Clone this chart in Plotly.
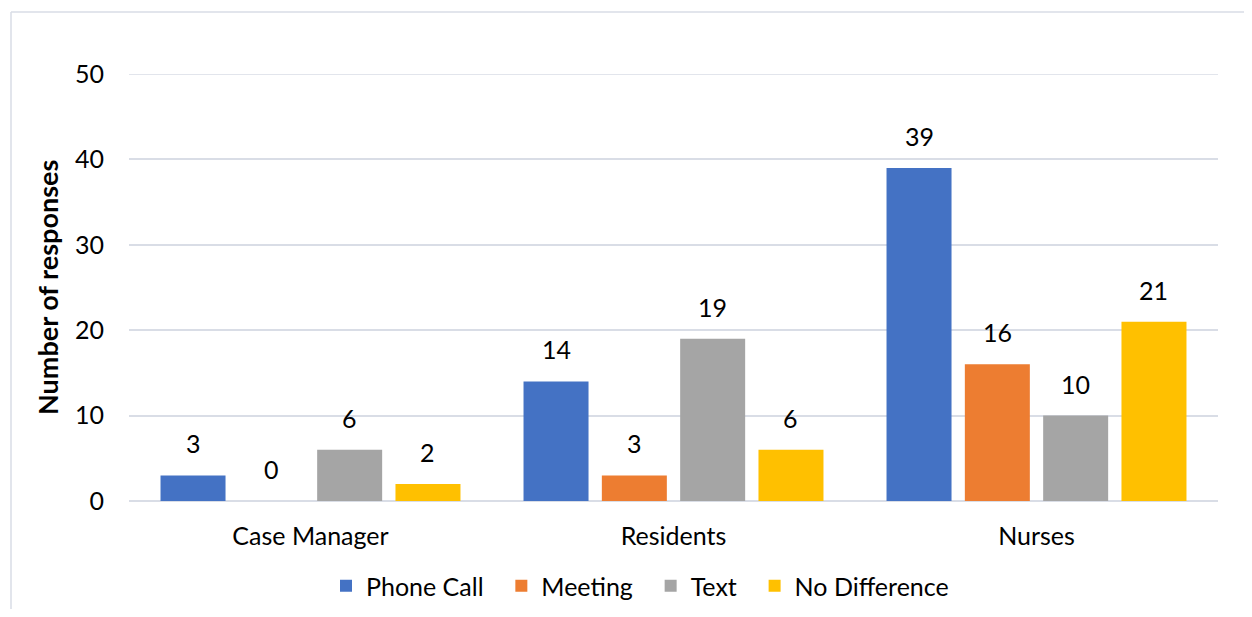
import plotly.graph_objects as go

categories = ["Case Manager", "Residents", "Nurses"]
series_names = ["Phone Call", "Meeting", "Text", "No Difference"]
phone_call = [3, 14, 39]
meeting = [0, 3, 16]
text_vals = [6, 19, 10]
no_difference = [2, 6, 21]
colors = ["#4472C4", "#ED7D31", "#A5A5A5", "#FFC000"]
y_ticks = [0, 10, 20, 30, 40, 50]

series_values = [phone_call, meeting, text_vals, no_difference]

# page has an 8px body margin; figure coordinates are page coords minus OFF
OFF = 8
W, H = 1252 - 2 * OFF, 617 - 2 * OFF
L, T = 129 - OFF, 74 - OFF
R = W - (1218 - OFF)
B = H - (501 - OFF)
pw, ph = W - L - R, H - T - B


def px_x(x):
    return (x - OFF - L) / pw


def px_y(y):
    return (H - B - (y - OFF)) / ph


FONT = "Lato"
FS = 25
PAD = "\u00a0\u00a0"
GRID = "#D9DDE6"

fig = go.Figure()
for k, (name, vals, col) in enumerate(zip(series_names, series_values, colors)):
    fig.add_trace(go.Bar(
        x=categories, y=vals, name=name + (PAD if k < len(series_names) - 1 else ""),
        marker=dict(color=col, line=dict(width=0)),
    ))

bargap = 0.137
groupgap = 0.17
slot_px = (1 - bargap) * pw / 3 / 4
annotations = []
for i, vals in enumerate(series_values):
    for c, v in zip(categories, vals):
        annotations.append(dict(
            x=c, y=v, xref="x", yref="y", text=str(v), showarrow=False,
            xshift=(i - 1.5) * slot_px, yshift=32, yanchor="middle",
            font=dict(family=FONT, size=FS, color="#000000"),
        ))

annotations.append(dict(
    x=px_x(47), y=px_y(287), xref="paper", yref="paper",
    text="<b>Number of responses</b>", textangle=-90, showarrow=False,
    xanchor="center", yanchor="middle",
    font=dict(family=FONT, size=27, color="#000000"),
))

shapes = [
    dict(type="line", xref="paper", yref="paper",
         x0=px_x(11), x1=px_x(1260), y0=px_y(12), y1=px_y(12),
         line=dict(color=GRID, width=1.5)),
    dict(type="line", xref="paper", yref="paper",
         x0=px_x(11), x1=px_x(11), y0=px_y(12), y1=px_y(630),
         line=dict(color=GRID, width=1.5)),
    # top gridline (at the upper end of the axis range)
    dict(type="line", xref="paper", yref="y", x0=0, x1=1,
         y0=y_ticks[-1], y1=y_ticks[-1], layer="below",
         line=dict(color=GRID, width=1.5)),
]

fig.update_layout(
    width=W, height=H,
    margin=dict(l=L, r=R, t=T, b=B, autoexpand=False),
    paper_bgcolor="white", plot_bgcolor="white",
    barmode="group", bargap=bargap, bargroupgap=groupgap,
    font=dict(family=FONT, size=FS, color="#000000"),
    xaxis=dict(showgrid=False, showline=False, ticks="", ticklabelstandoff=18,
               tickfont=dict(family=FONT, size=FS, color="#000000")),
    yaxis=dict(range=[0, y_ticks[-1]], tickvals=y_ticks, showgrid=True,
               gridcolor=GRID, gridwidth=1.5, zeroline=True,
               zerolinecolor=GRID, zerolinewidth=1.5,
               showline=False, ticks="", ticklabelstandoff=24,
               tickfont=dict(family=FONT, size=FS, color="#000000")),
    legend=dict(orientation="h", x=px_x(640), xanchor="center",
                y=px_y(586), yanchor="middle",
                font=dict(family=FONT, size=FS, color="#000000"),
                itemwidth=30, traceorder="normal"),
    annotations=annotations,
    shapes=shapes,
    showlegend=True,
)

fig.write_html("out.html")
